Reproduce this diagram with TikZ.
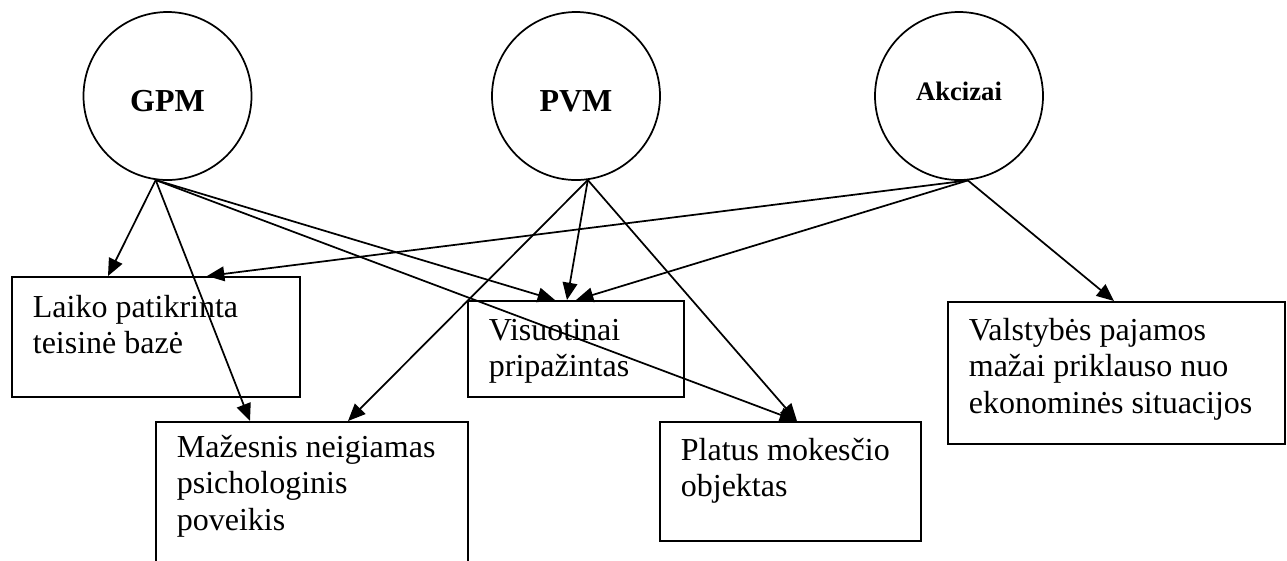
\documentclass[tikz,border=0pt]{standalone}
\usepackage{fontspec}
\setmainfont{Liberation Serif}
\usetikzlibrary{arrows.meta,calc}

\begin{document}
\begin{tikzpicture}[x=0.375pt, y=-0.375pt, line width=0.65pt,
	tax/.style={circle, draw, minimum size=63pt, inner sep=0pt},
	fact/.style={draw, anchor=north west, inner sep=0pt},
	facttext/.style={anchor=base west, align=left, inner sep=0pt, font=\fontsize{12}{13.8}\selectfont},
	link/.style={-{Triangle[length=6.5pt, width=5.5pt]}}]
	\useasboundingbox (0,0) rectangle (1287,560);
	\node[tax, font=\bfseries\fontsize{12}{14}\selectfont, text height=11.25pt, text depth=0pt] (gpm) at (167.5,96) {GPM};
	\node[tax, font=\bfseries\fontsize{12}{14}\selectfont, text height=11.25pt, text depth=0pt] (pvm) at (576,96) {PVM};
	\node[tax, font=\bfseries\fontsize{10}{12}\selectfont, text height=6.4pt, text depth=3pt] (akc) at (959,96) {Akcizai};
	\node[fact, minimum width=108pt, minimum height=45pt] (laiko) at (11,276) {};
	\node[fact, minimum width=81pt, minimum height=36pt] (visuot) at (467,300) {};
	\node[fact, minimum width=126.4pt, minimum height=53.25pt] (valst) at (947,301) {};
	\node[fact, minimum width=117pt, minimum height=56.25pt] (mazesn) at (155,421) {};
	\node[fact, minimum width=97.9pt, minimum height=44.6pt] (platus) at (659,421) {};
	% base anchor sits on the last line
	\node[facttext] (laiko-t) at ($(laiko.north west)+(21,77.8)$) {Laiko patikrinta\\teisinė bazė};
	\node[facttext] (visuot-t) at ($(visuot.north west)+(21,76.8)$) {Visuotinai\\pripažintas};
	\node[facttext] (valst-t) at ($(valst.north west)+(21,112.6)$) {Valstybės pajamos\\mažai priklauso nuo\\ekonominės situacijos};
	\node[facttext] (mazesn-t) at ($(mazesn.north west)+(21,109.6)$) {Mažesnis neigiamas\\psichologinis\\poveikis};
	\node[facttext] (platus-t) at ($(platus.north west)+(21,75.8)$) {Platus mokesčio\\objektas};
	\draw[link] (gpm.262) -- ($(laiko.north west)+(97,0)$);
	\draw[link] (gpm.262) -- ($(mazesn.north west)+(95,0)$);
	\draw[link] (gpm.262) -- ($(visuot.north west)+(88,0)$);
	\draw[link] (gpm.262) -- ($(platus.north west)+(138,0)$);
	\draw[link] (pvm.278) -- ($(mazesn.north west)+(193,0)$);
	\draw[link] (pvm.278) -- ($(visuot.north west)+(100,0)$);
	\draw[link] (pvm.278) -- ($(platus.north west)+(138,0)$);
	\draw[link] (akc.276) -- ($(laiko.north west)+(196,0)$);
	\draw[link] (akc.276) -- ($(visuot.north west)+(109,0)$);
	\draw[link] (akc.276) -- ($(valst.north west)+(167,0)$);
\end{tikzpicture}
\end{document}
